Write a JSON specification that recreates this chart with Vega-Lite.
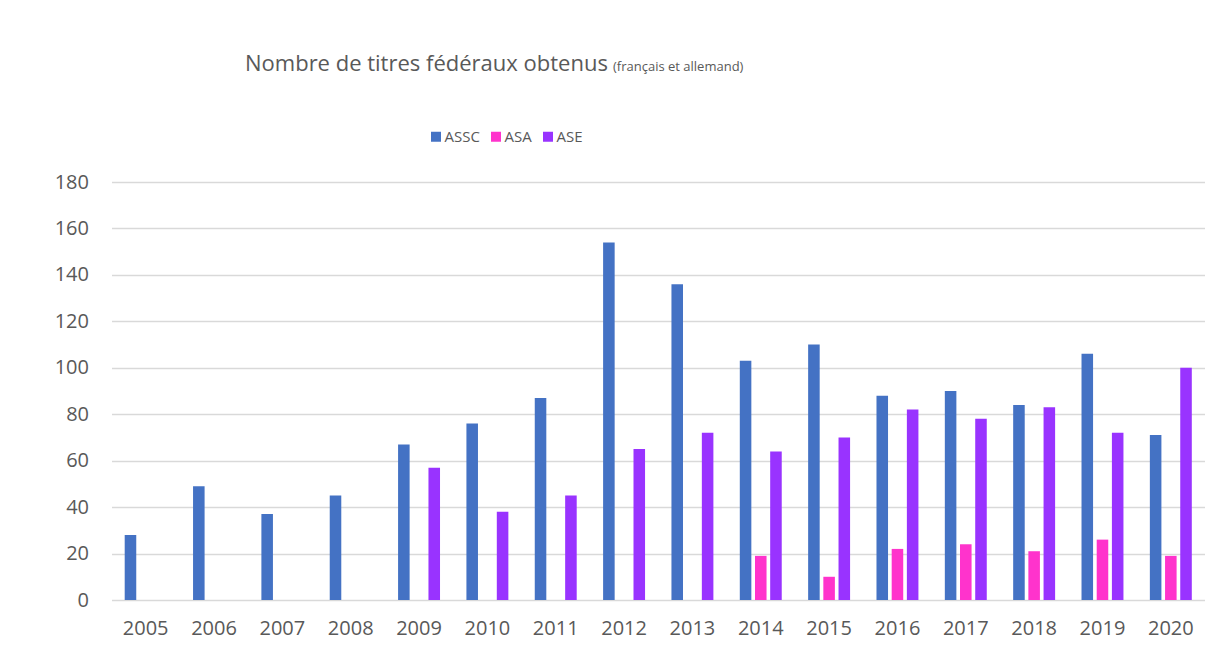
{
  "$schema": "https://vega.github.io/schema/vega-lite/v6.json",
  "width": 1093.5,
  "height": 418,
  "autosize": {"type": "none"},
  "padding": {"left": 111.5, "top": 182, "right": 0, "bottom": 46},
  "background": "white",
  "title": {
    "text": "Nombre de titres fédéraux obtenus",
    "anchor": "start",
    "frame": "group",
    "dx": 133.5,
    "baseline": "alphabetic",
    "offset": -33,
    "font": "Open Sans",
    "fontSize": 22,
    "fontWeight": "normal",
    "color": "#595959"
  },
  "data": {
    "values": [
      {"annee": "2005", "serie": "ASSC", "titres": 28},
      {"annee": "2006", "serie": "ASSC", "titres": 49},
      {"annee": "2007", "serie": "ASSC", "titres": 37},
      {"annee": "2008", "serie": "ASSC", "titres": 45},
      {"annee": "2009", "serie": "ASSC", "titres": 67},
      {"annee": "2009", "serie": "ASE", "titres": 57},
      {"annee": "2010", "serie": "ASSC", "titres": 76},
      {"annee": "2010", "serie": "ASE", "titres": 38},
      {"annee": "2011", "serie": "ASSC", "titres": 87},
      {"annee": "2011", "serie": "ASE", "titres": 45},
      {"annee": "2012", "serie": "ASSC", "titres": 154},
      {"annee": "2012", "serie": "ASE", "titres": 65},
      {"annee": "2013", "serie": "ASSC", "titres": 136},
      {"annee": "2013", "serie": "ASE", "titres": 72},
      {"annee": "2014", "serie": "ASSC", "titres": 103},
      {"annee": "2014", "serie": "ASA", "titres": 19},
      {"annee": "2014", "serie": "ASE", "titres": 64},
      {"annee": "2015", "serie": "ASSC", "titres": 110},
      {"annee": "2015", "serie": "ASA", "titres": 10},
      {"annee": "2015", "serie": "ASE", "titres": 70},
      {"annee": "2016", "serie": "ASSC", "titres": 88},
      {"annee": "2016", "serie": "ASA", "titres": 22},
      {"annee": "2016", "serie": "ASE", "titres": 82},
      {"annee": "2017", "serie": "ASSC", "titres": 90},
      {"annee": "2017", "serie": "ASA", "titres": 24},
      {"annee": "2017", "serie": "ASE", "titres": 78},
      {"annee": "2018", "serie": "ASSC", "titres": 84},
      {"annee": "2018", "serie": "ASA", "titres": 21},
      {"annee": "2018", "serie": "ASE", "titres": 83},
      {"annee": "2019", "serie": "ASSC", "titres": 106},
      {"annee": "2019", "serie": "ASA", "titres": 26},
      {"annee": "2019", "serie": "ASE", "titres": 72},
      {"annee": "2020", "serie": "ASSC", "titres": 71},
      {"annee": "2020", "serie": "ASA", "titres": 19},
      {"annee": "2020", "serie": "ASE", "titres": 100}
    ]
  },
  "mark": {"type": "bar"},
  "encoding": {
    "x": {
      "field": "annee",
      "type": "nominal",
      "sort": null,
      "scale": {"paddingInner": 0.333, "paddingOuter": 0.1665},
      "axis": {
        "title": null,
        "labelAngle": 0,
        "labelFont": "Open Sans",
        "labelFontSize": 20,
        "labelColor": "#595959",
        "labelPadding": 18,
        "ticks": false,
        "domain": false,
        "grid": false
      }
    },
    "xOffset": {
      "field": "serie",
      "type": "nominal",
      "scale": {"domain": ["ASSC", "ASA", "ASE"], "paddingInner": 0.24, "paddingOuter": 0.12}
    },
    "y": {
      "field": "titres",
      "type": "quantitative",
      "scale": {"domain": [0, 180], "nice": false},
      "axis": {
        "title": "(français et allemand)",
        "titleX": 501,
        "titleY": -112,
        "titleAngle": 0,
        "titleAlign": "left",
        "titleBaseline": "alphabetic",
        "titleFont": "Open Sans",
        "titleFontSize": 13,
        "titleFontWeight": "normal",
        "titleColor": "#595959",
        "values": [0, 20, 40, 60, 80, 100, 120, 140, 160, 180],
        "labelFont": "Open Sans",
        "labelFontSize": 20,
        "labelColor": "#595959",
        "labelPadding": 23,
        "ticks": false,
        "domain": false,
        "grid": true,
        "gridColor": "#d9d9d9",
        "gridWidth": 1.5
      }
    },
    "color": {
      "field": "serie",
      "type": "nominal",
      "scale": {"domain": ["ASSC", "ASA", "ASE"], "range": ["#4472C4", "#FF33CC", "#9933FF"]},
      "legend": {
        "title": null,
        "orient": "none",
        "direction": "horizontal",
        "legendX": 317,
        "legendY": -53,
        "symbolType": "square",
        "symbolSize": 100,
        "symbolStrokeWidth": 0,
        "labelFont": "Open Sans",
        "labelFontSize": 15,
        "labelColor": "#595959",
        "labelOffset": 1,
        "columnPadding": 8
      }
    }
  },
  "config": {
    "view": {"stroke": null}
  }
}
